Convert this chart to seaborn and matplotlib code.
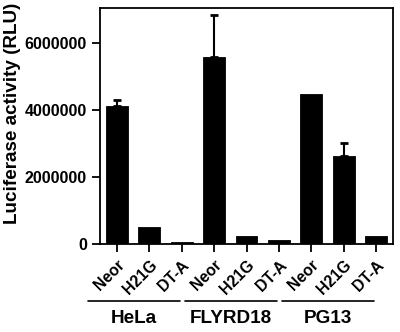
import numpy as np
import pandas as pd
import matplotlib
matplotlib.use("Agg")
import matplotlib.pyplot as plt
import matplotlib.transforms as mtransforms
import seaborn as sns

# data
cell_lines = ["HeLa", "FLYRD18", "PG13"]
constructs = ["Neor", "H21G", "DT-A"]
luc_mean = [4120000, 520000, 50000,
            5590000, 240000, 120000,
            4470000, 2630000, 250000]
luc_err = [170000, 0, 0,
           1250000, 0, 0,
           0, 380000, 0]

sns.set_style("ticks")
plt.rcParams.update({
    "font.family": ["Liberation Sans", "DejaVu Sans"],
    "font.weight": "bold",
    "text.color": "black",
    "axes.labelcolor": "black",
    "axes.edgecolor": "black",
    "xtick.color": "black",
    "ytick.color": "black",
})

bar_ids = [f"{c} {k}" for c in cell_lines for k in constructs]
df = pd.DataFrame({"bar": bar_ids, "luc": luc_mean})

fig = plt.figure(figsize=(4.0, 3.32), dpi=100)
ax = fig.add_axes([0.25, 0.265, 0.7325, 0.711])

sns.barplot(data=df, x="bar", y="luc", order=bar_ids, color="black",
            width=0.68, saturation=1, errorbar=None,
            edgecolor="black", linewidth=0.6, ax=ax)

xs = np.arange(len(bar_ids))
err = np.array(luc_err)
has_err = err > 0
ax.errorbar(xs[has_err], np.array(luc_mean)[has_err],
            yerr=[np.zeros(has_err.sum()), err[has_err]],
            fmt="none", ecolor="black", elinewidth=1.5, capsize=3, capthick=2)

ax.set_xlim(-0.53, 8.53)
ax.set_ylim(0, 7040000)
ax.set_yticks([0, 2000000, 4000000, 6000000])
ax.set_yticklabels(["0", "2000000", "4000000", "6000000"],
                   fontsize=11.5, fontweight="bold")
ax.set_xticks(xs)
ax.set_xticklabels(constructs * 3, rotation=45, ha="right",
                   rotation_mode="anchor", fontsize=11.3, fontweight="bold")
ax.set_xlabel("")
ax.set_ylabel("Luciferase activity (RLU)", fontsize=13.6, fontweight="bold")
ax.yaxis.set_label_coords(-0.268, 0.555)

for s in ax.spines.values():
    s.set_linewidth(1.3)
ax.tick_params(axis="both", width=1.3, length=6)

# group labels under the construct names
trans = mtransforms.blended_transform_factory(ax.transData, fig.transFigure)
for i, name in enumerate(cell_lines):
    c = i * 3 + 1 - 0.48
    ax.plot([c - 1.43, c + 1.43], [0.094, 0.094], color="black", lw=1.2,
            transform=trans, clip_on=False)
    ax.text(c, 0.042, name, transform=trans, ha="center", va="center",
            fontsize=13.6, fontweight="bold")

fig.savefig("out.png", dpi=100)
